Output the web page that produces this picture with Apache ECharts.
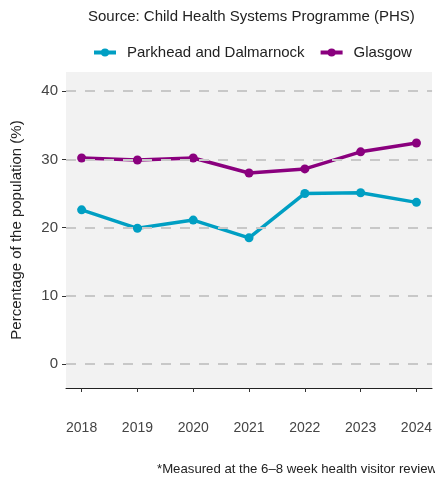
<!DOCTYPE html>
<html><head><meta charset="utf-8">
<script src="https://cdn.jsdelivr.net/npm/echarts@6/dist/echarts.min.js"></script>
<style>html,body{margin:0;padding:0;background:#fff}#c{width:435px;height:479px}</style>
</head><body><div id="c"></div>
<script>
const years = [2018, 2019, 2020, 2021, 2022, 2023, 2024];
const parkhead = [22.6, 19.9, 21.1, 18.5, 25.0, 25.1, 23.7];
const glasgow = [30.2, 29.9, 30.2, 28.0, 28.6, 31.1, 32.4];
const yTicks = [0, 10, 20, 30, 40];
const seriesNames = ['Parkhead and Dalmarnock', 'Glasgow'];
const titleText = 'Source: Child Health Systems Programme (PHS)';
const footText = '*Measured at the 6\u20138 week health visitor review';
const yName = 'Percentage of the population (%)';

const font = 'Liberation Sans, Arial, sans-serif';
const chart = echarts.init(document.getElementById('c'));
const pairs = arr => years.map((y, i) => [y, arr[i]]);
chart.setOption({
  animation: false,
  textStyle: { fontFamily: font },
  graphic: [
    { type: 'text', left: 88, top: 9, style: { text: titleText, fontSize: 15, fill: '#222', fontFamily: font } },
    { type: 'text', left: 157, top: 463, style: { text: footText, fontSize: 13.2, fill: '#222', fontFamily: font } }
  ],
  legend: {
    data: seriesNames,
    top: 40, left: 87,
    itemWidth: 22, itemHeight: 10, itemGap: 14,
    lineStyle: { width: 4 },
    textStyle: { fontSize: 15, color: '#222', fontFamily: font, padding: [0, 0, 0, 6] }
  },
  grid: { left: 66, right: 0, top: 72, bottom: 91, show: true, backgroundColor: '#f2f2f2', borderWidth: 0 },
  xAxis: {
    type: 'value', min: 2017.72, max: 2024.28,
    axisLine: { show: true, onZero: false, lineStyle: { color: '#222', width: 1 } },
    axisTick: { show: true, length: 4, lineStyle: { color: '#333' }, customValues: years },
    axisLabel: { customValues: years, margin: 33, fontSize: 14, color: '#444', fontFamily: font, formatter: v => String(v) },
    splitLine: { show: false }
  },
  yAxis: {
    type: 'value', min: -3.5, max: 42.8,
    name: yName, nameLocation: 'middle', nameGap: 42,
    nameTextStyle: { fontSize: 15, color: '#222', fontFamily: font },
    axisLine: { show: false },
    axisTick: { show: true, length: 4, lineStyle: { color: '#333' }, customValues: yTicks },
    axisLabel: { customValues: yTicks, margin: 8, fontSize: 15, color: '#444', fontFamily: font },
    splitLine: { show: false }
  },
  series: [
    {
      type: 'line', name: 'grid', data: [], z: 1, silent: true,
      markLine: {
        silent: true, symbol: 'none', label: { show: false },
        lineStyle: { type: [10, 9], color: '#c8c8c8', width: 2 },
        data: yTicks.map(v => ({ yAxis: v }))
      }
    },
    {
      type: 'line', name: seriesNames[0], data: pairs(parkhead),
      color: '#009fc3', symbol: 'circle', symbolSize: 9,
      lineStyle: { width: 3.5 }, z: 3
    },
    {
      type: 'line', name: seriesNames[1], data: pairs(glasgow),
      color: '#8a007e', symbol: 'circle', symbolSize: 9,
      lineStyle: { width: 3.5 }, z: 3
    }
  ]
});
</script></body></html>
